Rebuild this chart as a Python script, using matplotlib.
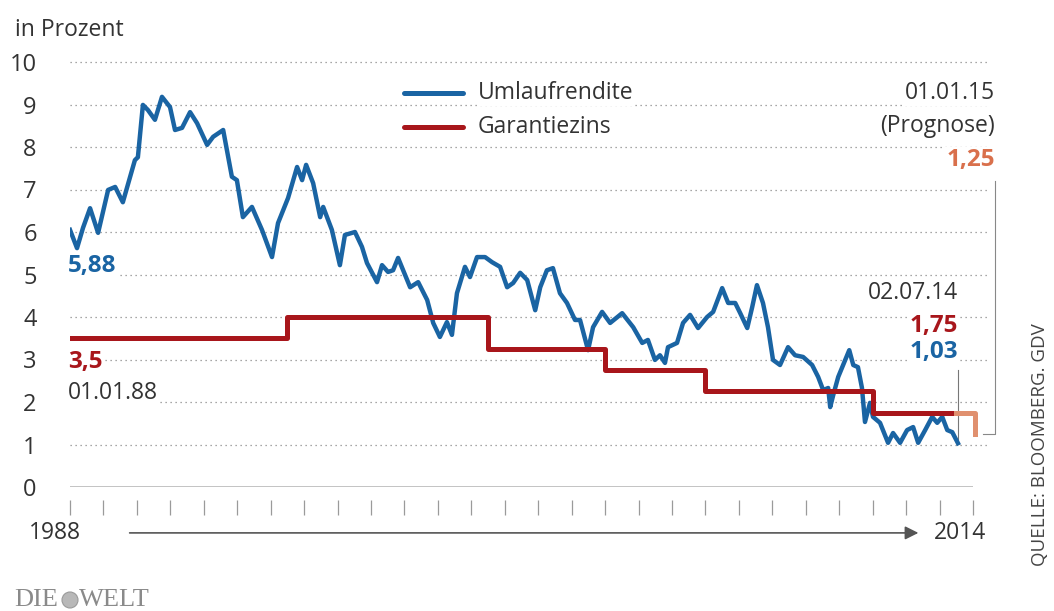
import matplotlib.pyplot as plt
from matplotlib.patches import Ellipse

plt.rcParams["font.family"] = ["Open Sans", "DejaVu Sans"]

# ── Umlaufrendite (decimal years) ────────────────────────────────────────────
years = [1988.00, 1988.21, 1988.39, 1988.60, 1988.84, 1989.14, 1989.35, 1989.58,
         1989.94, 1990.03, 1990.18, 1990.33, 1990.54, 1990.75, 1990.99, 1991.14,
         1991.35, 1991.59, 1991.80, 1992.10, 1992.28, 1992.58, 1992.84, 1992.99,
         1993.17, 1993.44, 1993.74, 1994.04, 1994.22, 1994.52, 1994.79, 1994.94,
         1995.06, 1995.27, 1995.48, 1995.57, 1995.83, 1996.07, 1996.22, 1996.52,
         1996.73, 1996.88, 1997.18, 1997.33, 1997.51, 1997.66, 1997.81, 1997.96,
         1998.17, 1998.41, 1998.68, 1998.86, 1999.06, 1999.27, 1999.42, 1999.57,
         1999.81, 1999.96, 2000.17, 2000.41, 2000.62, 2000.86, 2001.07, 2001.25,
         2001.46, 2001.67, 2001.91, 2002.06, 2002.26, 2002.44, 2002.65, 2002.86,
         2003.10, 2003.25, 2003.49, 2003.64, 2003.91, 2004.15, 2004.51, 2004.84,
         2005.11, 2005.28, 2005.49, 2005.64, 2005.79, 2005.88, 2006.15, 2006.33,
         2006.54, 2006.78, 2007.05, 2007.23, 2007.50, 2007.68, 2007.89, 2008.04,
         2008.25, 2008.40, 2008.54, 2008.72, 2008.87, 2009.02, 2009.23, 2009.47,
         2009.68, 2009.92, 2010.19, 2010.37, 2010.52, 2010.67, 2010.73, 2010.82,
         2010.97, 2011.18, 2011.30, 2011.42, 2011.56, 2011.68, 2011.77, 2011.92,
         2012.01, 2012.22, 2012.46, 2012.61, 2012.82, 2013.03, 2013.21, 2013.36,
         2013.57, 2013.78, 2013.93, 2014.08, 2014.23, 2014.38, 2014.55]
rendite = [6.05, 5.62, 6.10, 6.56, 5.98, 6.99, 7.06, 6.70,
           7.69, 7.76, 8.99, 8.87, 8.64, 9.18, 8.94, 8.40,
           8.45, 8.82, 8.56, 8.05, 8.24, 8.40, 7.30, 7.22,
           6.35, 6.59, 6.05, 5.41, 6.21, 6.80, 7.53, 7.22,
           7.58, 7.15, 6.35, 6.59, 6.05, 5.22, 5.93, 6.00,
           5.65, 5.27, 4.82, 5.22, 5.06, 5.10, 5.39, 5.10,
           4.70, 4.82, 4.40, 3.86, 3.53, 3.88, 3.58, 4.56,
           5.18, 4.94, 5.41, 5.41, 5.29, 5.18, 4.70, 4.80,
           5.04, 4.87, 4.16, 4.70, 5.10, 5.15, 4.56, 4.33,
           3.93, 3.93, 3.22, 3.76, 4.12, 3.86, 4.09, 3.76,
           3.39, 3.46, 2.99, 3.10, 2.92, 3.29, 3.39, 3.86,
           4.05, 3.74, 4.00, 4.12, 4.68, 4.33, 4.33, 4.09,
           3.74, 4.24, 4.75, 4.33, 3.76, 2.99, 2.87, 3.29,
           3.10, 3.06, 2.87, 2.59, 2.28, 2.33, 1.88, 2.16,
           2.59, 2.99, 3.22, 2.87, 2.82, 2.33, 1.53, 1.98,
           1.65, 1.51, 1.04, 1.27, 1.04, 1.34, 1.41, 1.04,
           1.34, 1.65, 1.51, 1.65, 1.34, 1.29, 1.03]

# ── Garantiezins (step changes) ──────────────────────────────────────────────
zins_years = [1988.0, 1994.5, 2000.5, 2004.0, 2007.0, 2012.0, 2014.5]
zins_vals  = [3.5, 4.0, 3.25, 2.75, 2.25, 1.75, 1.75]
prog_years = [2014.5, 2015.05, 2015.05]
prog_vals  = [1.75, 1.75, 1.25]

BLUE   = "#1a64a3"
RED    = "#a8161b"
ORANGE = "#e0906f"
TXT    = "#333333"
GRID   = "#8a8a8a"
FS     = 16.5     # normal text
FB     = 17.5     # bold values

W, H = 1054, 611
fig = plt.figure(figsize=(W / 100, H / 100), dpi=100)
ax = fig.add_axes([70 / W, (H - 487) / H, (973 - 70) / W, (487 - 62) / H])
ax.set_xlim(1988, 2015)
ax.set_ylim(0, 10)

# dotted grid + solid baseline
ax.hlines(range(1, 11), 1988, 2015.5, colors=GRID, linestyles=(0, (1, 3)),
          lw=0.9, clip_on=False, zorder=1)
ax.axhline(0, color="#bdbdbd", lw=2, zorder=1)

ax.plot(years, rendite, color=BLUE, lw=3.2, solid_joinstyle="round", zorder=3)
ax.step(zins_years, zins_vals, where="post", color=RED, lw=3.6, zorder=4)
ax.plot(prog_years, prog_vals, color=ORANGE, lw=3.6, zorder=4, clip_on=False)

for s in ax.spines.values():
    s.set_visible(False)
ax.spines["bottom"].set_position(("outward", 9))
ax.set_xticks(range(1988, 2016))
ax.set_xticklabels([])
ax.tick_params(axis="x", length=11, width=0.9, color="#9a9a9a", direction="out")
ax.set_yticks(range(0, 11))
ax.set_yticklabels([str(v) for v in range(0, 11)])
ax.tick_params(axis="y", length=0, pad=24, labelsize=17, labelcolor=TXT)

# x-axis caption with arrow
ax.annotate("", xy=(2013.45, -1.08), xytext=(1989.7, -1.08),
            arrowprops=dict(arrowstyle="-|>", color="#555555", lw=1.2,
                            mutation_scale=20),
            annotation_clip=False)
ax.text(1987.55, -1.08, "1988", ha="center", va="center", fontsize=FS,
        color=TXT, clip_on=False)
ax.text(2014.6, -1.08, "2014", ha="center", va="center", fontsize=FS,
        color=TXT, clip_on=False)

# legend
ax.plot([1998.0, 1999.75], [9.28, 9.28], color=BLUE, lw=3.6,
        solid_capstyle="round")
ax.plot([1998.0, 1999.75], [8.48, 8.48], color=RED, lw=3.6,
        solid_capstyle="round")
ax.text(2000.2, 9.28, "Umlaufrendite", va="center", fontsize=FS, color=TXT,
        bbox=dict(fc="white", ec="none", pad=1))
ax.text(2000.2, 8.48, "Garantiezins", va="center", fontsize=FS, color=TXT,
        bbox=dict(fc="white", ec="none", pad=1))

# start annotations
wbox = dict(fc="white", ec="none", pad=1)
ax.text(1987.95, 5.2, "5,88", ha="left", va="center", fontsize=FB,
        fontweight="bold", color=BLUE, bbox=wbox)
ax.text(1987.95, 2.95, "3,5", ha="left", va="center", fontsize=FB,
        fontweight="bold", color=RED, bbox=wbox)
ax.text(1987.95, 2.21, "01.01.88", ha="left", va="center", fontsize=FS,
        color=TXT, bbox=wbox)

# end annotations
ax.text(2014.55, 4.56, "02.07.14", ha="right", va="center", fontsize=FS,
        color=TXT, bbox=wbox)
ax.text(2014.55, 3.78, "1,75", ha="right", va="center", fontsize=FB,
        fontweight="bold", color=RED, bbox=wbox)
ax.text(2014.55, 3.17, "1,03", ha="right", va="center", fontsize=FB,
        fontweight="bold", color=BLUE, bbox=wbox)
ax.plot([2014.55, 2014.55], [1.08, 2.75], color="#777777", lw=0.8)

ax.text(2015.65, 9.27, "01.01.15", ha="right", va="center", fontsize=FS,
        color=TXT, bbox=wbox, clip_on=False)
ax.text(2015.65, 8.49, "(Prognose)", ha="right", va="center", fontsize=FS,
        color=TXT, bbox=wbox, clip_on=False)
ax.text(2015.65, 7.69, "1,25", ha="right", va="center", fontsize=FB,
        fontweight="bold", color="#d9704c", bbox=wbox, clip_on=False)
ax.plot([2015.65, 2015.65, 2015.3], [7.2, 1.25, 1.25], color="#888888",
        lw=0.8, clip_on=False)

# figure texts
fig.text(15 / W, 1 - 30 / H, "in Prozent", ha="left", va="center",
         fontsize=FS, color=TXT)
fig.text(1040 / W, 1 - 445 / H, "QUELLE: BLOOMBERG. GDV", rotation=90,
         ha="center", va="center", fontsize=13.5, color="#444444")
fig.text(14 / W, 1 - 600 / H, "DIE", ha="left", va="center", fontsize=19,
         family="Liberation Serif", color="#8a8a8a")
fig.add_artist(Ellipse((70 / W, 1 - 600 / H), 16 / W, 16 / H,
                       transform=fig.transFigure, fc="#b8b8b8", ec="#9a9a9a",
                       lw=0.8))
fig.text(79 / W, 1 - 600 / H, "WELT", ha="left", va="center", fontsize=19,
         family="Liberation Serif", color="#8a8a8a")

fig.savefig("out.png", dpi=100)
